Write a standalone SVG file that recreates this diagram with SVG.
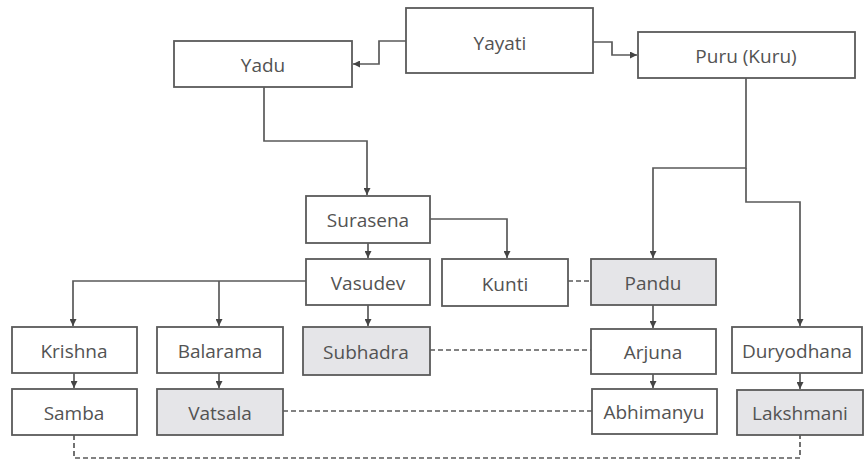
<svg xmlns="http://www.w3.org/2000/svg" width="865" height="464" viewBox="0 0 865 464">
<style>
.box{fill:#ffffff;stroke:#5a5a5a;stroke-width:1.8}
.g{fill:#e5e5e8}
.t{font-family:"Open Sans","Liberation Sans",sans-serif;font-size:19px;fill:#535353;text-anchor:middle;dominant-baseline:central}
.c{fill:none;stroke:#5a5a5a;stroke-width:1.7}
.d{fill:none;stroke:#5a5a5a;stroke-width:1.7;stroke-dasharray:5 3}
</style>
<defs>
<marker id="ar" viewBox="0 0 8 8" refX="8" refY="4" markerWidth="7" markerHeight="7" markerUnits="userSpaceOnUse" orient="auto">
<path d="M0,0 L8,4 L0,8 Z" fill="#444"/>
</marker>
</defs>
<rect width="865" height="464" fill="#ffffff"/>
<g id="connectors">
<path class="c" d="M406,41 H379 V64 H353" marker-end="url(#ar)"/>
<path class="c" d="M593,42 H612 V55 H637" marker-end="url(#ar)"/>
<path class="c" d="M264,87 V141 H367 V195" marker-end="url(#ar)"/>
<path class="c" d="M746,78 V168 H653 V258" marker-end="url(#ar)"/>
<path class="c" d="M746,168 V202 H800 V326" marker-end="url(#ar)"/>
<path class="c" d="M368,243 V258" marker-end="url(#ar)"/>
<path class="c" d="M430,219 H507 V258" marker-end="url(#ar)"/>
<path class="c" d="M306,281 H73 V326" marker-end="url(#ar)"/>
<path class="c" d="M219,281 V326" marker-end="url(#ar)"/>
<path class="c" d="M368,305 V326" marker-end="url(#ar)"/>
<path class="c" d="M74,373 V388" marker-end="url(#ar)"/>
<path class="c" d="M219,373 V388" marker-end="url(#ar)"/>
<path class="c" d="M653,305 V328" marker-end="url(#ar)"/>
<path class="c" d="M653,374 V388" marker-end="url(#ar)"/>
<path class="c" d="M800,373 V389" marker-end="url(#ar)"/>
<path class="d" d="M568,281 H591"/>
<path class="d" d="M430,350 H591"/>
<path class="d" d="M283,411 H592"/>
<path class="d" d="M74,435 V458 H800 V435"/>
</g>
<g id="yayati"><rect class="box" x="406" y="8" width="187" height="65"/><text class="t" x="500" y="43">Yayati</text></g>
<g id="yadu"><rect class="box" x="174" y="41" width="178" height="46"/><text class="t" x="263" y="65">Yadu</text></g>
<g id="puru"><rect class="box" x="638" y="32" width="217" height="46"/><text class="t" x="746" y="56">Puru (Kuru)</text></g>
<g id="surasena"><rect class="box" x="306" y="196" width="124" height="47"/><text class="t" x="368" y="220">Surasena</text></g>
<g id="vasudev"><rect class="box" x="306" y="259" width="124" height="46"/><text class="t" x="368" y="283">Vasudev</text></g>
<g id="kunti"><rect class="box" x="442" y="259" width="126" height="47"/><text class="t" x="505" y="284">Kunti</text></g>
<g id="pandu"><rect class="box g" x="591" y="259" width="125" height="46"/><text class="t" x="653" y="283">Pandu</text></g>
<g id="krishna"><rect class="box" x="12" y="327" width="125" height="46"/><text class="t" x="74" y="351">Krishna</text></g>
<g id="balarama"><rect class="box" x="157" y="327" width="126" height="46"/><text class="t" x="220" y="351">Balarama</text></g>
<g id="subhadra"><rect class="box g" x="303" y="327" width="127" height="48"/><text class="t" x="366" y="352">Subhadra</text></g>
<g id="arjuna"><rect class="box" x="591" y="329" width="125" height="45"/><text class="t" x="653" y="352">Arjuna</text></g>
<g id="duryodhana"><rect class="box" x="732" y="327" width="130" height="46"/><text class="t" x="797" y="351">Duryodhana</text></g>
<g id="samba"><rect class="box" x="12" y="389" width="125" height="46"/><text class="t" x="74" y="413">Samba</text></g>
<g id="vatsala"><rect class="box g" x="157" y="389" width="126" height="46"/><text class="t" x="220" y="413">Vatsala</text></g>
<g id="abhimanyu"><rect class="box" x="592" y="389" width="125" height="45"/><text class="t" x="654" y="412">Abhimanyu</text></g>
<g id="lakshmani"><rect class="box g" x="737" y="390" width="126" height="45"/><text class="t" x="800" y="413">Lakshmani</text></g>
</svg>
